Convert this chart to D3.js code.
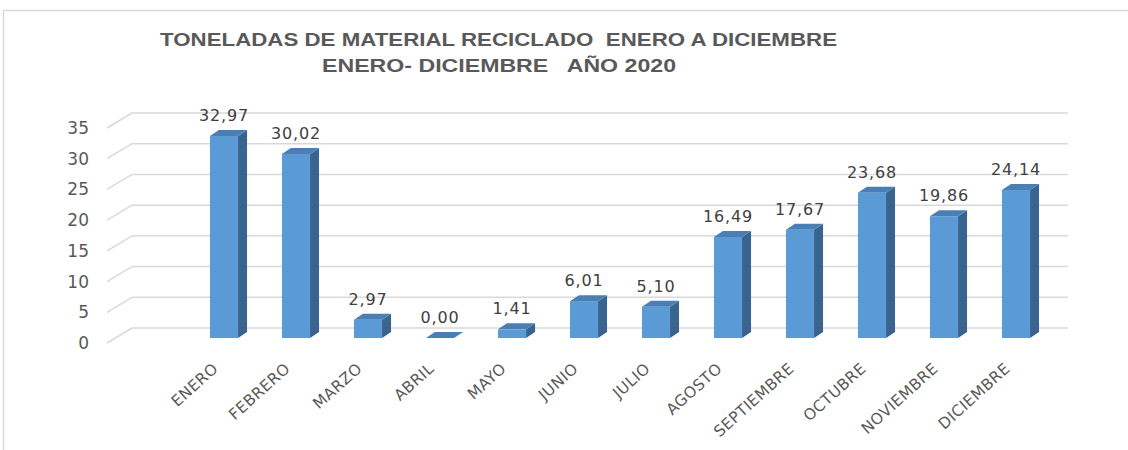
<!DOCTYPE html>
<html><head><meta charset="utf-8">
<script src="https://cdn.jsdelivr.net/npm/d3@7/dist/d3.min.js"></script>
<style>body{margin:0;background:#fff;}svg{display:block;}</style>
</head><body>
<svg id="c" width="1128" height="450"></svg>
<script>
const months = ["ENERO","FEBRERO","MARZO","ABRIL","MAYO","JUNIO","JULIO","AGOSTO","SEPTIEMBRE","OCTUBRE","NOVIEMBRE","DICIEMBRE"];
const values = [32.97,30.02,2.97,0.00,1.41,6.01,5.10,16.49,17.67,23.68,19.86,24.14];
const yTicks = [0,5,10,15,20,25,30,35];
const titleLines = ["TONELADAS DE MATERIAL RECICLADO  ENERO A DICIEMBRE","ENERO- DICIEMBRE   AÑO 2020"];

const svg = d3.select("#c");
const grid = "#d9d9d9";

// border
svg.append("rect").attr("x",3.5).attr("y",10.5).attr("width",1140).attr("height",470)
  .attr("fill","none").attr("stroke",grid).attr("stroke-width",1.5);

// 3D offsets
const dX = 25, dY = -15;       // wall depth
const bdx = 9, bdy = -6;       // bar depth

const x = d3.scaleBand().domain(months).range([188,1052]).paddingInner(0.61).paddingOuter(0.305);
const yFront = d3.scaleLinear().domain([0,35]).range([343,128]);
const yBack  = d3.scaleLinear().domain([0,35]).range([343+dY,128+dY]);
const yBar   = d3.scaleLinear().domain([0,35]).range([338,338-35*6.13]);

// gridlines: back wall + left side
const g = svg.append("g");
yTicks.forEach(t=>{
  g.append("line").attr("x1",107+dX).attr("x2",1068).attr("y1",yBack(t)).attr("y2",yBack(t))
    .attr("stroke",grid).attr("stroke-width",1.5);
  g.append("line").attr("x1",107).attr("x2",107+dX).attr("y1",yFront(t)).attr("y2",yBack(t))
    .attr("stroke",grid).attr("stroke-width",1.5);
});

// y axis labels
const ya = svg.append("g").attr("transform","translate(89,0)")
  .call(d3.axisLeft(yFront).tickValues(yTicks).tickSize(0).tickPadding(0).tickFormat(d3.format("d")));
ya.select(".domain").remove();
ya.selectAll("text").attr("font-family","DejaVu Sans").attr("font-size",17).attr("fill","#595959");

// bars
const bars = svg.append("g");
months.forEach((m,i)=>{
  const v = values[i];
  const x0 = x(m), w = x.bandwidth(), x1 = x0 + w;
  const yb = yBar(0), yt = yBar(v);
  bars.append("rect").attr("x",x0).attr("y",yt).attr("width",w).attr("height",yb-yt).attr("fill","#5b9bd5");
  bars.append("path").attr("d",`M${x1},${yb}L${x1+bdx},${yb+bdy}L${x1+bdx},${yt+bdy}L${x1},${yt}Z`).attr("fill","#3a6490");
  bars.append("path").attr("d",`M${x0},${yt}L${x0+bdx},${yt+bdy}L${x1+bdx},${yt+bdy}L${x1},${yt}Z`).attr("fill","#4a7fb6");
  bars.append("text").attr("x",x0+w/2).attr("y",yt-15).attr("text-anchor","middle")
    .attr("font-family","DejaVu Sans").attr("font-size",16).attr("letter-spacing",0.8).attr("fill","#404040")
    .text(d3.format(".2f")(v).replace(".",","));
});

// x axis labels
const xa = svg.append("g").attr("transform","translate(0,370)")
  .call(d3.axisBottom(x).tickSize(0).tickPadding(0));
xa.select(".domain").remove();
xa.selectAll("text").attr("font-family","DejaVu Sans").attr("font-size",15.5).attr("fill","#595959")
  .attr("text-anchor","end").attr("dy",0).attr("y",0).attr("letter-spacing",0.4)
  .attr("transform","translate(-5,0) rotate(-42)");

// title
const tt = svg.append("g").attr("font-family","Liberation Sans Narrow, Liberation Sans").attr("font-weight","bold")
  .attr("font-size",19).attr("fill","#595959");
tt.append("text").attr("x",160).attr("y",46).attr("textLength",677).attr("lengthAdjust","spacingAndGlyphs")
  .style("white-space","pre").text(titleLines[0]);
tt.append("text").attr("x",322).attr("y",72).attr("textLength",354).attr("lengthAdjust","spacingAndGlyphs")
  .style("white-space","pre").text(titleLines[1]);
</script>
</body></html>
